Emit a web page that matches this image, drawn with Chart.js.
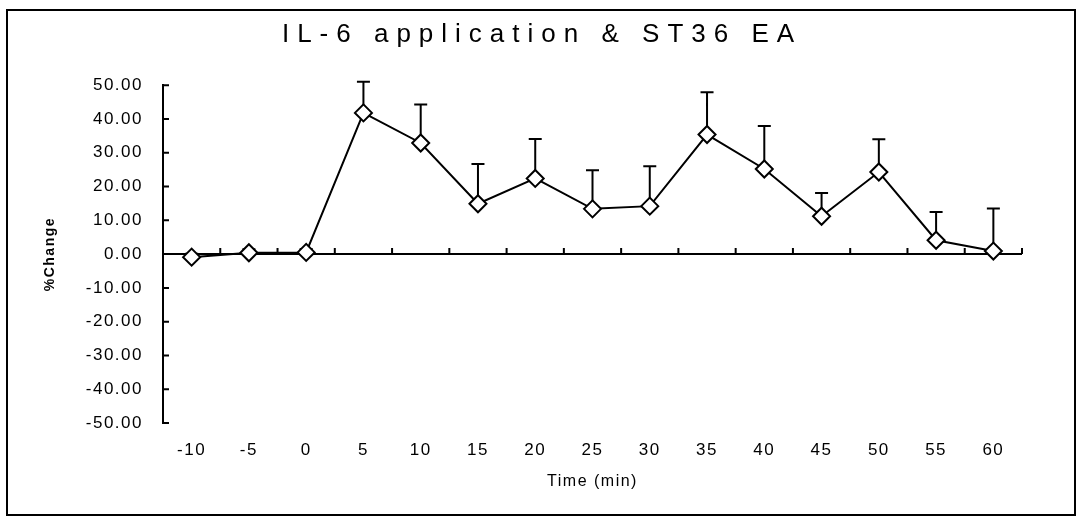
<!DOCTYPE html>
<html lang="en">

<head>
    <meta charset="UTF-8">
    <title>IL-6 application &amp; ST36 EA</title>
    <script src="https://cdn.jsdelivr.net/npm/chart.js"></script>
    <style>
        body { margin: 0; background: #fff; }
        #wrap { width: 1079px; height: 520px; position: relative; }
    </style>
</head>

<body>
    <div id="wrap"><canvas id="myChart"></canvas></div>

    <script>
        // values
        const times = ['-10', '-5', '0', '5', '10', '15', '20', '25', '30', '35', '40', '45', '50', '55', '60'];
        const meanChange = [-0.9, 0.4, 0.5, 41.8, 32.9, 14.9, 22.4, 13.4, 14.2, 35.4, 25.2, 11.2, 24.3, 4.1, 0.9];
        const errorUp = [1.0, 1.0, 1.0, 9.2, 11.4, 11.8, 11.7, 11.4, 11.8, 12.5, 12.7, 6.9, 9.7, 8.4, 12.6];
        const yTicks = [-50, -40, -30, -20, -10, 0, 10, 20, 30, 40, 50];

        const ink = '#000';
        const face = 'Liberation Sans, Arial, sans-serif';

        // frame, inner tick marks, upper error bars, letter spacing
        const figurePlugin = {
            id: 'figure',
            beforeDraw(chart) {
                const ctx = chart.ctx;
                ctx.letterSpacing = '1.5px';
                const tb = chart.titleBlock;
                if (tb && !tb._spaced) {
                    const orig = tb.draw;
                    tb.draw = function (area) {
                        const c = this.ctx;
                        c.save();
                        c.letterSpacing = '8px';
                        c.translate(16, 0);
                        orig.call(this, area);
                        c.restore();
                    };
                    tb._spaced = true;
                }
                ctx.save();
                ctx.strokeStyle = ink;
                ctx.lineWidth = 2;
                ctx.strokeRect(7, 10, 1068, 505);
                ctx.restore();
            },
            beforeDatasetsDraw(chart) {
                const ctx = chart.ctx;
                const x = chart.scales.x;
                const y = chart.scales.y;
                const area = chart.chartArea;
                const zero = y.getPixelForValue(0);
                ctx.save();
                ctx.strokeStyle = ink;
                ctx.lineWidth = 2;
                ctx.beginPath();
                // y ticks pointing inward
                yTicks.forEach(v => {
                    const py = y.getPixelForValue(v);
                    ctx.moveTo(area.left, py);
                    ctx.lineTo(area.left + 6, py);
                });
                // x ticks between categories, pointing up from the zero line
                for (let i = 1; i <= times.length; i++) {
                    const px = i < times.length
                        ? (x.getPixelForValue(i - 1) + x.getPixelForValue(i)) / 2
                        : area.right;
                    ctx.moveTo(px, zero);
                    ctx.lineTo(px, zero - 6);
                }
                ctx.stroke();
                // error bars (upper only)
                const meta = chart.getDatasetMeta(0);
                ctx.beginPath();
                meta.data.forEach((pt, i) => {
                    const top = y.getPixelForValue(meanChange[i] + errorUp[i]);
                    ctx.moveTo(pt.x, pt.y);
                    ctx.lineTo(pt.x, top);
                    ctx.moveTo(pt.x - 6.5, top);
                    ctx.lineTo(pt.x + 6.5, top);
                });
                ctx.stroke();
                ctx.restore();
            }
        };

        const ctx = document.getElementById('myChart').getContext('2d');
        const myChart = new Chart(ctx, {
            type: 'line',
            data: {
                labels: times,
                datasets: [{
                    label: '%Change',
                    data: meanChange,
                    borderColor: ink,
                    borderWidth: 2,
                    pointStyle: 'rectRot',
                    pointRadius: 8.5,
                    pointBorderWidth: 2,
                    pointBackgroundColor: '#fff',
                    pointBorderColor: ink,
                    fill: false,
                    tension: 0
                }]
            },
            options: {
                responsive: true,
                maintainAspectRatio: false,
                animation: false,
                layout: { padding: { left: 30, right: 57, top: 10, bottom: 10 } },
                plugins: {
                    legend: { display: false },
                    tooltip: { enabled: false },
                    title: {
                        display: true,
                        text: 'IL-6 application & ST36 EA',
                        color: ink,
                        font: { family: face, size: 26, weight: 'normal' },
                        padding: { top: 9, bottom: 35 }
                    }
                },
                scales: {
                    x: {
                        offset: true,
                        grid: { display: false, drawTicks: false },
                        border: { display: false },
                        ticks: {
                            color: ink,
                            autoSkip: false,
                            maxRotation: 0,
                            padding: 17,
                            font: { family: face, size: 17 }
                        },
                        title: {
                            display: true,
                            text: 'Time (min)',
                            color: ink,
                            padding: { top: 0, bottom: 19 },
                            font: { family: face, size: 16 }
                        },
                        afterFit(scale) { scale.height = 87; }
                    },
                    y: {
                        min: -50,
                        max: 50,
                        border: { display: true, color: ink, width: 2 },
                        grid: {
                            drawTicks: false,
                            color: c => (c.tick && c.tick.value === 0 ? ink : 'rgba(0,0,0,0)'),
                            lineWidth: 2
                        },
                        ticks: {
                            stepSize: 10,
                            color: ink,
                            padding: 20,
                            font: { family: face, size: 17 },
                            callback: v => v.toFixed(2)
                        },
                        title: {
                            display: true,
                            text: '%Change',
                            color: ink,
                            padding: { top: 12, bottom: 0 },
                            font: { family: face, size: 14, weight: 'bold' }
                        },
                        afterFit(scale) { scale.width = 133; }
                    }
                }
            },
            plugins: [figurePlugin]
        });
    </script>
</body>

</html>
